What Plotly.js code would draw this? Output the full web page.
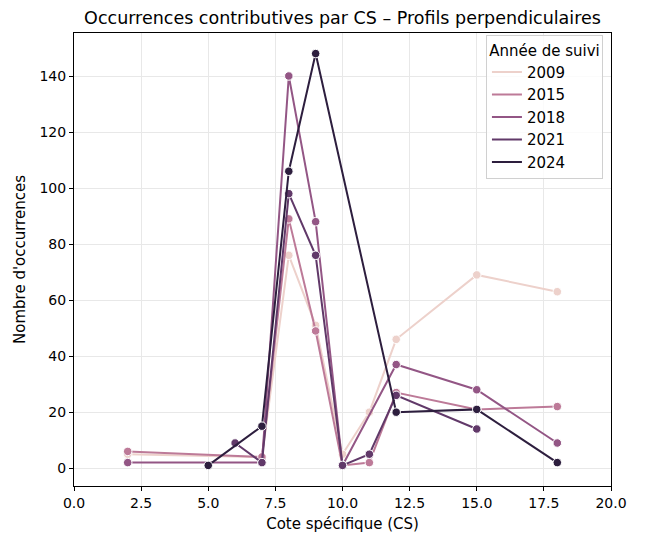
<!DOCTYPE html>
<html>
<head>
<meta charset="utf-8">
<script src="https://cdn.plot.ly/plotly-3.0.1.min.js"></script>
<style>html,body{margin:0;padding:0;background:#fff;}#chart{width:649px;height:542px;}</style>
</head>
<body>
<div id="chart"></div>
<script>
// Data
const years = ["2009", "2015", "2018", "2021", "2024"];
const colors = ["#edd1cb", "#bd7a98", "#935685", "#613969", "#2d1e3e"];

const cs2009 = [2, 7, 8, 9, 10, 11, 12, 15, 18];
const occ2009 = [5, 4, 76, 51, 5, 20, 46, 69, 63];

const cs2015 = [2, 7, 8, 9, 10, 11, 12, 15, 18];
const occ2015 = [6, 4, 89, 49, 1, 2, 27, 21, 22];

const cs2018 = [2, 7, 8, 9, 10, 12, 15, 18];
const occ2018 = [2, 2, 140, 88, 1, 37, 28, 9];

const cs2021 = [6, 7, 8, 9, 10, 11, 12, 15];
const occ2021 = [9, 2, 98, 76, 1, 5, 26, 14];

const cs2024 = [5, 7, 8, 9, 12, 15, 18];
const occ2024 = [1, 15, 106, 148, 20, 21, 2];

const xTicks = [0, 2.5, 5, 7.5, 10, 12.5, 15, 17.5, 20];
const xTickText = ["0.0", "2.5", "5.0", "7.5", "10.0", "12.5", "15.0", "17.5", "20.0"];
const yTicks = [0, 20, 40, 60, 80, 100, 120, 140];

const xs = [cs2009, cs2015, cs2018, cs2021, cs2024];
const ys = [occ2009, occ2015, occ2018, occ2021, occ2024];

const traces = [];
years.forEach((yr, i) => {
  traces.push({
    x: xs[i], y: ys[i], type: "scatter", mode: "lines",
    name: yr, legendgroup: yr,
    line: {color: colors[i], width: 2},
    hoverinfo: "skip"
  });
  traces.push({
    x: xs[i], y: ys[i], type: "scatter", mode: "markers",
    name: yr, legendgroup: yr, showlegend: false,
    marker: {color: colors[i], size: 8.5, line: {color: "#ffffff", width: 1}}
  });
});

const font = "DejaVu Sans, sans-serif";
const layout = {
  width: 649, height: 542,
  paper_bgcolor: "#fff", plot_bgcolor: "#fff",
  margin: {l: 74, r: 38, t: 33, b: 56},
  font: {family: font, size: 14, color: "#000"},
  title: {
    text: "Occurrences contributives par CS – Profils perpendiculaires",
    font: {family: font, size: 17.5, color: "#000"},
    x: 0.5, xanchor: "center", xref: "paper",
    y: 1, yref: "paper", yanchor: "bottom", pad: {b: 9}
  },
  xaxis: {
    range: [0, 20], tickvals: xTicks, ticktext: xTickText,
    showgrid: true, gridcolor: "#e8e8e8", gridwidth: 1,
    zeroline: false, showline: true, linecolor: "#000", linewidth: 1, mirror: true,
    ticks: "outside", ticklen: 4, tickcolor: "#000",
    tickfont: {family: font, size: 14, color: "#000"},
    title: {text: "Cote spécifique (CS)", font: {family: font, size: 15, color: "#000"}, standoff: 8}
  },
  yaxis: {
    range: [-6.35, 155.35], tickvals: yTicks,
    showgrid: true, gridcolor: "#e8e8e8", gridwidth: 1,
    zeroline: false, showline: true, linecolor: "#000", linewidth: 1, mirror: true,
    ticks: "outside", ticklen: 4, tickcolor: "#000",
    tickfont: {family: font, size: 14, color: "#000"},
    title: {text: "Nombre d'occurrences", font: {family: font, size: 15, color: "#000"}, standoff: 10}
  },
  legend: {
    x: 0.985, xanchor: "right", y: 0.995, yanchor: "top",
    bgcolor: "rgba(255,255,255,0.8)", bordercolor: "#d0d0d0", borderwidth: 1,
    font: {family: font, size: 15, color: "#000"},
    title: {text: "Année de suivi", font: {family: font, size: 15, color: "#000"}, side: "top center"},
    itemwidth: 30, tracegroupgap: 0
  },
  showlegend: true
};

Plotly.newPlot("chart", traces, layout, {displayModeBar: false, staticPlot: true});
</script>
</body>
</html>
